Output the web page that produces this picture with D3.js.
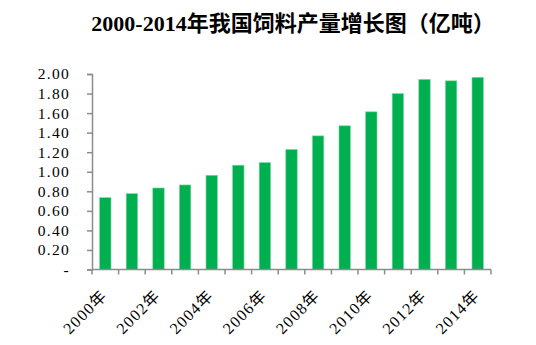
<!DOCTYPE html>
<html><head><meta charset="utf-8">
<script src="https://cdn.jsdelivr.net/npm/d3@7/dist/d3.min.js"></script>
<style>body{margin:0;background:#fff;}</style>
</head><body>
<svg id="c" width="536" height="345"></svg>
<script>
const years = ["2000","2001","2002","2003","2004","2005","2006","2007","2008","2009","2010","2011","2012","2013","2014"];
const values = [0.735,0.776,0.834,0.865,0.964,1.067,1.094,1.228,1.367,1.47,1.613,1.80,1.945,1.93,1.966];
const yTicks = [0,0.2,0.4,0.6,0.8,1.0,1.2,1.4,1.6,1.8,2.0];
const labelYears = ["2000","2002","2004","2006","2008","2010","2012","2014"];
const title = "2000-2014年我国饲料产量增长图（亿吨）";

const svg = d3.select("#c");
const mLeft = 92, mRight = 491, mTop = 74, mBottom = 269.5;
const x = d3.scaleBand().domain(years).range([mLeft, mRight]).padding(0);
const y = d3.scaleLinear().domain([0, 2]).range([mBottom, mTop]);
const bw = x.bandwidth();
const barW = bw * 0.43;

svg.append("text").attr("x", 293).attr("y", 31).attr("text-anchor", "middle")
  .style("font-family", "'Liberation Serif','Noto Sans CJK SC',serif")
  .style("font-weight", "bold").style("font-size", "22px").attr("fill", "#000")
  .text(title);

svg.append("g").selectAll("rect").data(years).join("rect")
  .attr("x", d => x(d) + (bw - barW) / 2)
  .attr("y", (d, i) => y(values[i]))
  .attr("width", barW)
  .attr("height", (d, i) => mBottom - y(values[i]))
  .attr("fill", "#00B050").attr("stroke", "#7fd9a2").attr("stroke-width", 0.6);

const axisColor = "#8c8c8c";
const gy = svg.append("g").attr("transform", `translate(${mLeft},0)`)
  .call(d3.axisLeft(y).tickValues(yTicks).tickSize(5).tickPadding(17)
    .tickFormat(d => d === 0 ? "-" : d3.format(".2f")(d)));
gy.select(".domain").attr("stroke", axisColor).attr("stroke-width", 1.5);
gy.selectAll(".tick line").attr("stroke", axisColor).attr("stroke-width", 1.5);
gy.selectAll(".tick text").attr("fill", "#000")
  .style("font-family", "'Liberation Serif',serif").style("font-size", "15.5px")
  .style("letter-spacing", "1.3px");

const bounds = years.map(d => x(d)).concat([mRight]);
const gx = svg.append("g");
gx.append("line").attr("x1", mLeft).attr("x2", mRight).attr("y1", mBottom).attr("y2", mBottom)
  .attr("stroke", axisColor).attr("stroke-width", 1.5);
gx.selectAll("line.t").data(bounds).join("line").attr("class", "t")
  .attr("x1", d => d).attr("x2", d => d).attr("y1", mBottom).attr("y2", mBottom + 5)
  .attr("stroke", axisColor).attr("stroke-width", 1.5);
gx.selectAll("text").data(labelYears).join("text")
  .attr("transform", d => `translate(${x(d) + bw / 2 - 1},${mBottom + 23}) rotate(-45)`)
  .attr("text-anchor", "end").attr("dy", "0.35em")
  .style("font-family", "'Liberation Serif','Noto Sans CJK SC',serif").style("font-size", "16px")
  .style("letter-spacing", "1.3px")
  .attr("fill", "#000")
  .text(d => d + "年");
</script>
</body></html>
